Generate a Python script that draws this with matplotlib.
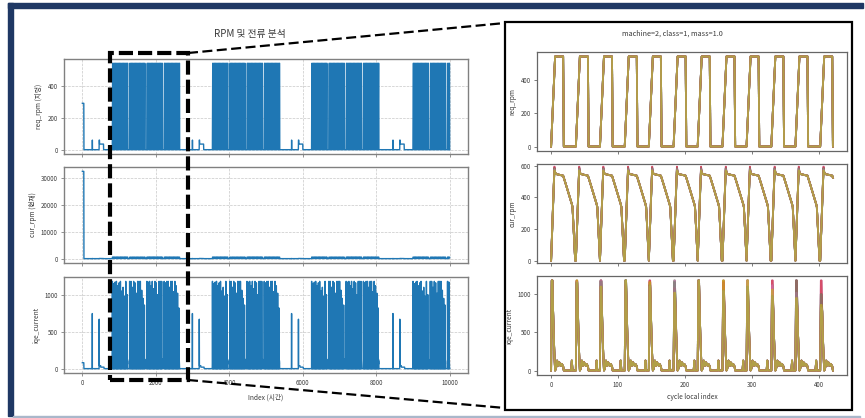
import numpy as np
import matplotlib
matplotlib.use("Agg")
import matplotlib.pyplot as plt
from matplotlib.patches import Rectangle
from matplotlib.lines import Line2D

plt.rcParams['font.family'] = ['Noto Sans CJK KR', 'DejaVu Sans']
plt.rcParams['axes.unicode_minus'] = False

# ---------------- data ----------------
N_SAMPLES = 10000

# one machine cycle: 12 pulses, local sample index of each pulse start
PULSE_STARTS = [0, 37, 73, 110, 146, 183, 219, 256, 292, 329, 365, 402]
CYCLE_LEN = 422
CYCLE_GAP = 48

# start index of each run of cycles in the long record
BLOCK_STARTS = [815, 3540, 6240, 9000]
CYCLES_PER_BLOCK = 4

# single-pulse shapes (one value per sample)
REQ_PULSE = [0, 90, 180, 270, 360, 450, 540,
             540, 540, 540, 540, 540, 540, 540, 540, 540, 540, 540, 540,
             0, 0, 0, 0, 0, 0, 0, 0, 0, 0, 0, 0, 0, 0, 0, 0, 0, 0]
CUR_PULSE = [0, 120, 240, 360, 480, 585, 560, 550, 548, 547, 546, 545, 544,
             543, 542, 541, 540, 539, 538, 525, 512, 498, 484, 470, 456, 442,
             428, 414, 400, 386, 372, 358, 340, 255, 170, 85, 0]
IQE_PULSE = [0, 1180, 1180, 780, 450, 200, 0, 20, 60, 130, 85, 60, 110, 70,
             90, 60, 85, 70, 55, 0, 0, 0, 0, 0, 0, 0, 0, 0, 0, 0, 0, 130,
             0, 0, 0, 0, 0]

# per-cycle current spike peaks (cycle position within a block x pulse)
SPIKE_PEAKS = [
    [1180, 1150, 1170, 1180, 1120, 1160, 1180, 1050, 1100, 980, 1180, 1000],
    [1180, 1180, 1100, 1180, 1160, 1020, 1180, 1180, 1180, 1060, 950, 860],
    [1180, 1170, 1180, 1120, 1180, 1080, 1180, 1160, 1000, 1180, 1180, 1180],
    [1180, 1160, 1180, 1180, 1100, 1180, 1180, 1040, 1180, 1120, 1020, 820],
]
# per-cycle speed overshoot right after each ramp
CUR_OVERSHOOT = [585, 572, 595, 580]

# first samples of the record
INIT_LEN = 40
INIT_REQ = 290
INIT_CUR = 32300
INIT_IQE = 80

# short wake-up events before each block (offset from block start)
WAKE_A_OFFSET = -546
WAKE_A_REQ = [0, 60, 60, 60, 0]
WAKE_A_IQE = [0, 745, 745, 0, 0]
WAKE_B_OFFSET = -360
WAKE_B_REQ_LEVELS = [0, 60, 35, 0]
WAKE_B_REQ_RUNS = [1, 10, 110, 1]
WAKE_B_IQE_LEVELS = [0, 668, 40, 20, 0]
WAKE_B_IQE_RUNS = [1, 3, 40, 90, 1]

LEFT_TITLE = 'RPM 및 전류 분석'
LEFT_YLABELS = ['req_rpm (지령)', 'cur_rpm (현재)', 'iqe_current']
LEFT_XLABEL = 'Index (시간)'
RIGHT_TITLE = 'machine=2, class=1, mass=1.0'
RIGHT_YLABELS = ['req_rpm', 'cur_rpm', 'iqe_current']
RIGHT_XLABEL = 'cycle local index'


def build_cycle(k):
    req = np.zeros(CYCLE_LEN)
    cur = np.zeros(CYCLE_LEN)
    iqe = np.zeros(CYCLE_LEN)
    bounds = PULSE_STARTS + [CYCLE_LEN]
    for i, s in enumerate(PULSE_STARTS):
        n = min(bounds[i + 1] - s, len(REQ_PULSE))
        req[s:s + n] = REQ_PULSE[:n]
        c = np.array(CUR_PULSE, dtype=float)
        c[5] = CUR_OVERSHOOT[k]
        cur[s:s + n] = c[:n]
        q = np.array(IQE_PULSE, dtype=float)
        q[1:3] = SPIKE_PEAKS[k][i]
        iqe[s:s + n] = q[:n]
    return req, cur, iqe


req = np.zeros(N_SAMPLES)
cur = np.zeros(N_SAMPLES)
iqe = np.zeros(N_SAMPLES)
req[:INIT_LEN] = INIT_REQ
cur[:INIT_LEN] = INIT_CUR
iqe[:INIT_LEN] = INIT_IQE

wake_b_req = np.repeat(WAKE_B_REQ_LEVELS, WAKE_B_REQ_RUNS)
wake_b_iqe = np.repeat(WAKE_B_IQE_LEVELS, WAKE_B_IQE_RUNS)

cycles = []
for start in BLOCK_STARTS:
    a = start + WAKE_A_OFFSET
    req[a:a + len(WAKE_A_REQ)] = WAKE_A_REQ
    cur[a:a + len(WAKE_A_REQ)] = WAKE_A_REQ
    iqe[a:a + len(WAKE_A_IQE)] = WAKE_A_IQE
    b = start + WAKE_B_OFFSET
    req[b:b + len(wake_b_req)] = wake_b_req
    cur[b:b + len(wake_b_req)] = wake_b_req
    iqe[b:b + len(wake_b_iqe)] = wake_b_iqe
    for k in range(CYCLES_PER_BLOCK):
        s = start + k * (CYCLE_LEN + CYCLE_GAP)
        n = min(CYCLE_LEN, N_SAMPLES - s)
        if n <= 0:
            continue
        r, c, q = build_cycle(k)
        req[s:s + n] = r[:n]
        cur[s:s + n] = c[:n]
        iqe[s:s + n] = q[:n]
        if n == CYCLE_LEN:
            cycles.append((r, c, q))

idx = np.arange(N_SAMPLES)
local_idx = np.arange(CYCLE_LEN)

# ---------------- figure ----------------
W, H = 865, 418
fig = plt.figure(figsize=(W / 100, H / 100), dpi=100)
fig.patch.set_facecolor('white')


def fx(px):
    return px / W


def fy(py):
    return 1 - py / H


def axes_box(x0, y0, x1, y1):
    return [fx(x0), fy(y1), (x1 - x0) / W, (y1 - y0) / H]


TICK_FS = 4.4
LABEL_FS = 4.8
BLUE = '#1f77b4'
SPINE = '#808080'
TXT = '#3a3a3a'

# slide frame
fig.patches.append(Rectangle((fx(8), fy(7.5)), (863 - 8) / W, 4.5 / H,
                             transform=fig.transFigure, color='#1f3864', zorder=-5))
fig.patches.append(Rectangle((fx(8), fy(416)), 5 / W, (416 - 3) / H,
                             transform=fig.transFigure, color='#1f3864', zorder=-5))
fig.patches.append(Rectangle((fx(13), fy(418.5)), (860 - 13) / W, 3 / H,
                             transform=fig.transFigure, color='#a9b7ca', zorder=-5))

# ----- left: full record -----
left_boxes = [(64, 59, 468, 154), (64, 167, 468, 263), (64, 277, 468, 373)]
left_series = [req, cur, iqe]
left_yticks = [[0, 200, 400], [0, 10000, 20000, 30000], [0, 500, 1000]]
left_axes = []
for i, (box, ser) in enumerate(zip(left_boxes, left_series)):
    ax = fig.add_axes(axes_box(*box), sharex=left_axes[0] if left_axes else None)
    ax.plot(idx, ser, color=BLUE, lw=1.0)
    ax.set_yticks(left_yticks[i])
    ax.set_xticks([0, 2000, 4000, 6000, 8000, 10000])
    ax.grid(True, ls='--', lw=0.5, color='#c8c8c8')
    for sp in ax.spines.values():
        sp.set_color(SPINE)
        sp.set_linewidth(1.0)
    ax.tick_params(labelsize=TICK_FS, colors=TXT, length=2.5, width=0.6, pad=2)
    ax.tick_params(axis='both', color=SPINE)
    ax.set_ylabel(LEFT_YLABELS[i], fontsize=LABEL_FS, color=TXT, labelpad=3)
    if i < 2:
        ax.tick_params(labelbottom=False)
    left_axes.append(ax)
left_axes[-1].set_xlabel(LEFT_XLABEL, fontsize=LABEL_FS, color=TXT)
left_axes[-1].xaxis.set_label_coords(0.5, -0.21)
fig.text(fx(250), fy(34), LEFT_TITLE, ha='center', va='center', fontsize=7, color=TXT)

# ----- right: overlaid cycles -----
fig.patches.append(Rectangle((fx(505), fy(410)), (852 - 505) / W, (410 - 22) / H,
                             transform=fig.transFigure, facecolor='white',
                             edgecolor='black', lw=1.6, zorder=-1))
INSET_COLORS = ['tab:blue', 'tab:cyan', 'tab:purple', 'tab:green', 'tab:brown',
                'tab:red', 'tab:pink', 'tab:gray', 'tab:green', 'tab:orange',
                'tab:red', 'tab:pink', 'tab:gray', 'tab:olive']
right_boxes = [(537, 52, 847, 151), (537, 164, 847, 263), (537, 276, 847, 375)]
right_yticks = [[0, 200, 400], [0, 200, 400, 600], [0, 500, 1000]]
right_axes = []
for i, box in enumerate(right_boxes):
    ax = fig.add_axes(axes_box(*box), sharex=right_axes[0] if right_axes else None)
    for j, cyc in enumerate(cycles):
        ax.plot(local_idx, cyc[i], color=INSET_COLORS[j % len(INSET_COLORS)],
                lw=1.3, alpha=0.6)
    ax.set_yticks(right_yticks[i])
    ax.set_xticks([0, 100, 200, 300, 400])
    for sp in ax.spines.values():
        sp.set_color('#666666')
        sp.set_linewidth(0.9)
    ax.tick_params(labelsize=TICK_FS, colors=TXT, length=2.5, width=0.6, pad=2)
    ax.tick_params(axis='both', color='#666666')
    ax.set_ylabel(RIGHT_YLABELS[i], fontsize=LABEL_FS, color=TXT, labelpad=3)
    if i < 2:
        ax.tick_params(labelbottom=False)
    right_axes.append(ax)
right_axes[1].set_ylim(-15, 612)
right_axes[-1].set_xlabel(RIGHT_XLABEL, fontsize=LABEL_FS, color=TXT)
right_axes[-1].xaxis.set_label_coords(0.5, -0.18)
fig.text(fx(672), fy(34), RIGHT_TITLE, ha='center', va='center', fontsize=5.2, color=TXT)

# ----- zoom marker and connectors -----
fig.patches.append(Rectangle((fx(110), fy(380)), (188 - 110) / W, (380 - 53) / H,
                             transform=fig.transFigure, fill=False, edgecolor='black',
                             lw=3.0, ls=(0, (3.4, 1.2)), zorder=5))
fig.lines.append(Line2D([fx(188), fx(505)], [fy(53), fy(23)], transform=fig.transFigure,
                        color='black', lw=1.6, ls=(0, (4.5, 2)), zorder=5))
fig.lines.append(Line2D([fx(188), fx(505)], [fy(380), fy(408)], transform=fig.transFigure,
                        color='black', lw=1.6, ls=(0, (4.5, 2)), zorder=5))

fig.savefig('out.png', dpi=100, facecolor='white')
